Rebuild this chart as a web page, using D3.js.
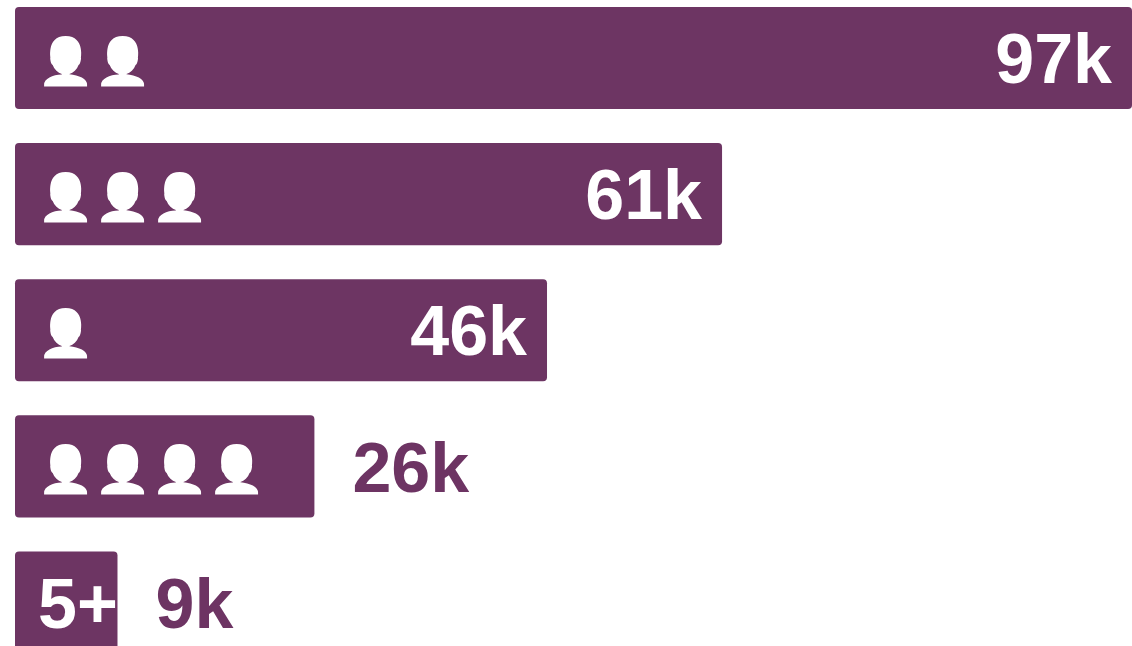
<!DOCTYPE html>
<html>
<head>
<meta charset="utf-8">
<script src="https://cdn.jsdelivr.net/npm/d3@7"></script>
<style>
  html, body { margin: 0; padding: 0; background: #fff; }
  svg { display: block; }
</style>
</head>
<body>
<svg id="chart"></svg>
<script>
// household size categories (icons) and counts in thousands
const categories = ["👤👤", "👤👤👤", "👤", "👤👤👤👤", "5+"];
const values = [97, 61.4, 46.2, 26, 8.9];
const valueLabels = ["97k", "61k", "46k", "26k", "9k"];

const width = 1132;
const height = 646;
const barColor = "#6d3463";

const svg = d3.select("#chart")
  .attr("width", width)
  .attr("height", height);

// soft edge like in the original render
svg.append("defs").append("filter")
  .attr("id", "soft")
  .append("feGaussianBlur")
  .attr("stdDeviation", 0.7);

const x = d3.scaleLinear()
  .domain([0, d3.max(values)])
  .range([15, width]);

const y = d3.scaleBand()
  .domain(categories)
  .range([7, 653.5])
  .paddingInner(0.25)
  .paddingOuter(0);

const data = categories.map((c, i) => ({ cat: c, value: values[i], label: valueLabels[i] }));

// bars
svg.append("g")
  .selectAll("rect")
  .data(data)
  .join("rect")
  .attr("x", x(0))
  .attr("y", d => y(d.cat))
  .attr("width", d => x(d.value) - x(0))
  .attr("height", y.bandwidth())
  .attr("rx", 4)
  .attr("fill", barColor)
  .attr("filter", "url(#soft)");

const fontSize = 70;
const iconSize = 46;
const isIcon = d => d.cat !== "5+";
const baseline = (d, fs) => y(d.cat) + y.bandwidth() / 2 + fs * 0.36;

// category labels inside the bars (icons drawn white)
svg.append("g")
  .selectAll("text")
  .data(data)
  .join("text")
  .attr("x", d => isIcon(d) ? x(0) + 22 : x(0) + 23)
  .attr("y", d => isIcon(d) ? baseline(d, iconSize) + 2 : baseline(d, fontSize))
  .attr("fill", "#fff")
  .style("font-family", "'Liberation Sans', Arial, sans-serif")
  .style("font-weight", "bold")
  .style("font-size", d => (isIcon(d) ? iconSize : fontSize) + "px")
  .style("filter", d => isIcon(d) ? "brightness(0) invert(1)" : null)
  .text(d => d.cat);

// value labels: inside if the bar is wide enough, otherwise after the bar
const inside = d => x(d.value) - x(0) > 450;

svg.append("g")
  .selectAll("text")
  .data(data)
  .join("text")
  .attr("x", d => inside(d) ? x(d.value) - 20 : x(d.value) + 38)
  .attr("y", d => baseline(d, fontSize))
  .attr("text-anchor", d => inside(d) ? "end" : "start")
  .attr("fill", d => inside(d) ? "#fff" : barColor)
  .style("font-family", "'Liberation Sans', Arial, sans-serif")
  .style("font-weight", "bold")
  .style("font-size", fontSize + "px")
  .text(d => d.label);
</script>
</body>
</html>
